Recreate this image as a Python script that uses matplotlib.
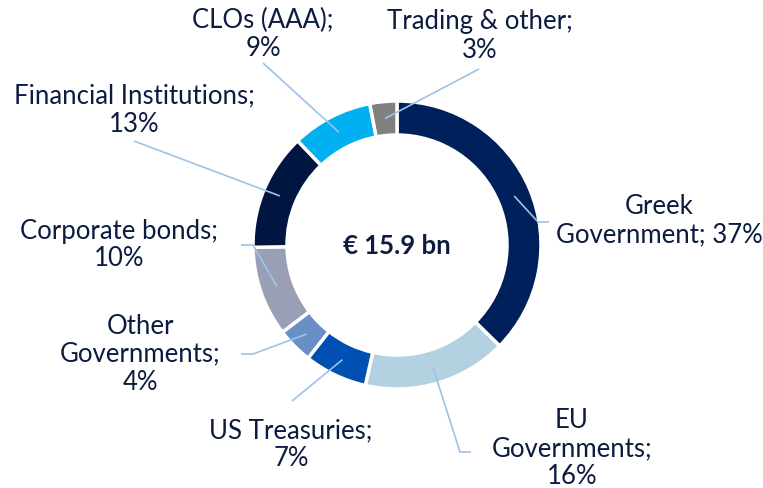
import numpy as np
import matplotlib.pyplot as plt

# portfolio breakdown (clockwise from 12 o'clock)
labels = ['Greek\nGovernment; 37%', 'EU\nGovernments;\n16%', 'US Treasuries;\n7%',
          'Other\nGovernments;\n4%', 'Corporate bonds;\n10%', 'Financial Institutions;\n13%',
          'CLOs (AAA);\n9%', 'Trading & other;\n3%']
shares = [37, 16, 7, 4, 10, 13, 9, 3]
total_label = '€ 15.9 bn'

colors = ['#00205c', '#b4d1e1', '#0050b4', '#6a8fc6', '#9a9fb6', '#001540', '#00b0f0', '#808080']
text_col = '#0c1b40'
line_col = '#9dc3e6'

W, H = 763, 488
cx, cy, R, ring = 397, 245, 144, 34

# label placement in pixel coords (x, y from top)
label_xy = [(659, 221), (572, 449), (291, 445), (140, 354), (119, 245), (134, 110), (263, 34), (480, 36)]
# leader line points after the start on the ring
leader_pts = [[(538, 222), (549, 222)],
              [(460, 452), (471, 452)],
              [(292, 401)],
              [(253, 354), (241, 354)],
              [(253, 245), (241, 245)],
              [(134, 141)],
              [(263, 63)],
              [(479, 69)]]

plt.rcParams['font.family'] = ['Lato', 'DejaVu Sans']

fig = plt.figure(figsize=(W / 100, H / 100), dpi=100)
ax = fig.add_axes([0, 0, 1, 1])

wedges, _ = ax.pie(shares, colors=colors, radius=R, center=(cx, H - cy),
                   startangle=90, counterclock=False,
                   wedgeprops=dict(width=ring, edgecolor='white', linewidth=2.5))
ax.set_xlim(0, W)
ax.set_ylim(0, H)
ax.set_aspect('equal')
ax.axis('off')

rmid = R - ring / 2
for w, lab, (lx, ly), pts in zip(wedges, labels, label_xy, leader_pts):
    ang = np.deg2rad((w.theta1 + w.theta2) / 2)
    xs = [cx + rmid * np.cos(ang)] + [p[0] for p in pts]
    ys = [H - cy + rmid * np.sin(ang)] + [H - p[1] for p in pts]
    ax.plot(xs, ys, color=line_col, lw=1.2, solid_capstyle='butt', zorder=3)
    ax.text(lx, H - ly, lab, ha='center', va='center', fontsize=18.5,
            color=text_col, linespacing=1.15)

ax.text(cx, H - cy - 1, total_label, ha='center', va='center', fontsize=18.5,
        fontweight='bold', color=text_col)

fig.savefig('out.png', dpi=100)
